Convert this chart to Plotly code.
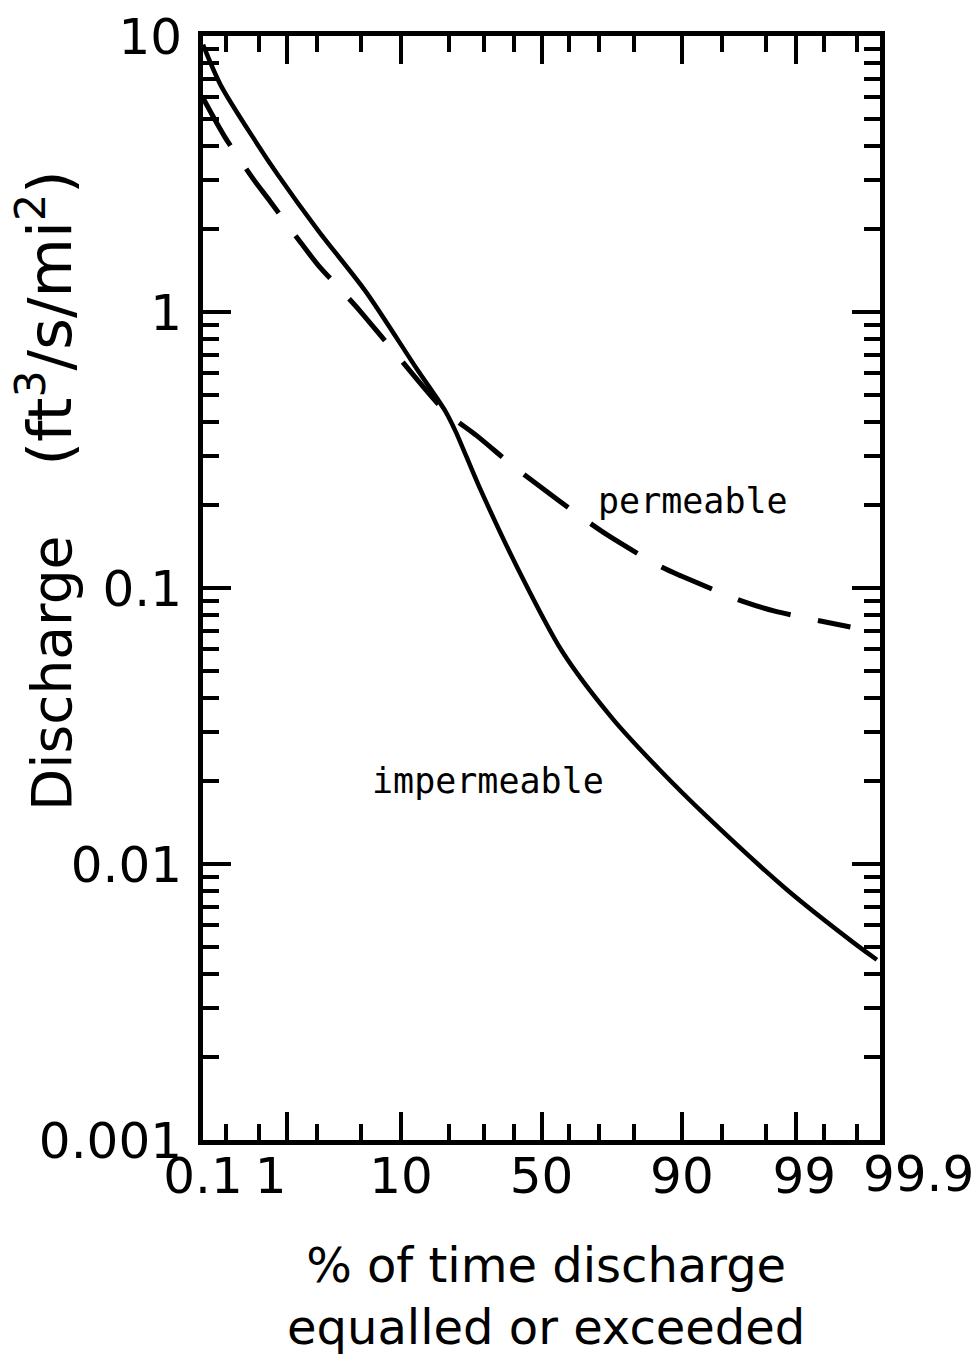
import math
from statistics import NormalDist
import plotly.graph_objects as go

nd = NormalDist()


def zq(p):
    """percent exceedance -> normal score (probability-paper position)"""
    return nd.inv_cdf(p / 100.0)


# ---------------- data ----------------
x_tick_pct = [0.1, 1, 10, 50, 90, 99, 99.9]
x_tick_text = ["0.1", "1\u00a0\u00a0", "10", "50", "90", "\u00a099", ""]
x_edge_label_pct = 99.9
x_edge_label = "99.9"
x_minor_pct = [0.2, 0.5, 2, 5, 20, 30, 40, 60, 70, 80, 95, 98, 99.5, 99.8]

y_tick_vals = [0.001, 0.01, 0.1, 1, 10]
y_tick_text = ["0.001", "0.01", "0.1", "1", "10"]
y_minor_mult = [2, 3, 4, 5, 6, 7, 8, 9]
y_decades = [0.001, 0.01, 0.1, 1]

imperm_pct = [0.1, 0.17, 0.45, 0.81, 2.1, 5.4, 12.7, 19.1, 21.7, 28.4,
              40.8, 57.4, 74.1, 85.9, 93.4, 98.74, 99.78, 99.89]
imperm_q = [9.3, 6.64, 4.16, 3.13, 1.96, 1.19, 0.624, 0.435, 0.368, 0.234,
            0.1212, 0.0591, 0.0337, 0.022, 0.0149, 0.00808, 0.00519, 0.0045]

perm_pct = [0.1, 0.19, 0.42, 0.66, 1.42, 2.08, 3.39, 4.92, 8.55, 19.1, 27.7,
            40.1, 49.1, 64.1, 72.6, 85.9, 89.9, 96.8, 98.34, 99.76]
perm_q = [5.96, 4.33, 3.05, 2.52, 1.77, 1.476, 1.197, 1.004, 0.737, 0.435, 0.3565,
          0.275, 0.2346, 0.181, 0.1557, 0.1202, 0.1105, 0.089, 0.0825, 0.0722]

labels = ["permeable", "impermeable"]
label_pct = [91.7, 31.2]
label_q = [0.207, 0.020]

# ---------------- figure ----------------
fig = go.Figure()

fig.add_trace(go.Scatter(
    x=[zq(p) for p in imperm_pct], y=imperm_q, mode="lines",
    line=dict(color="black", width=4.5, shape="spline", smoothing=0.8),
    showlegend=False, hoverinfo="skip"))

fig.add_trace(go.Scatter(
    x=[zq(p) for p in perm_pct], y=perm_q, mode="lines",
    line=dict(color="black", width=5, shape="spline", smoothing=0.8, dash="55px,28px"),
    showlegend=False, hoverinfo="skip"))

for t, p, q in zip(labels, label_pct, label_q):
    fig.add_annotation(x=zq(p), y=math.log10(q), text=t, showarrow=False,
                       xanchor="center", yanchor="middle",
                       font=dict(family="DejaVu Sans Mono", size=35, color="black"))

tick_font = dict(family="DejaVu Sans", size=50, color="black")

# right-edge tick label, nudged right as in the original figure
fig.add_annotation(x=zq(x_edge_label_pct), xref="x", y=0, yref="paper",
                   text=x_edge_label, showarrow=False, xanchor="center",
                   yanchor="top", xshift=38, yshift=-3, font=tick_font)

fig.update_xaxes(
    range=[zq(0.1), zq(99.9)],
    tickvals=[zq(p) for p in x_tick_pct], ticktext=x_tick_text,
    tickangle=0, ticklabeloverflow="allow",
    ticks="inside", ticklen=28, tickwidth=4, tickcolor="black",
    showline=True, linewidth=5, linecolor="black", mirror="allticks",
    showgrid=False, zeroline=False, tickfont=tick_font, ticklabelstandoff=-12,
    minor=dict(tickvals=[zq(p) for p in x_minor_pct], ticks="inside",
               ticklen=16, tickwidth=4, tickcolor="black", showgrid=False),
)

fig.update_yaxes(
    type="log", range=[-3, 1],
    tickvals=y_tick_vals, ticktext=y_tick_text,
    ticks="inside", ticklen=28, tickwidth=4, tickcolor="black",
    showline=True, linewidth=5, linecolor="black", mirror="allticks",
    showgrid=False, zeroline=False, tickfont=tick_font, ticklabelstandoff=6,
    minor=dict(tickvals=[d * m for d in y_decades for m in y_minor_mult],
               ticks="inside", ticklen=16, tickwidth=4, tickcolor="black",
               showgrid=False),
)

# axis titles
fig.add_annotation(xref="paper", yref="paper", x=-0.233, y=0.588,
                   text="Discharge\u00a0\u00a0\u00a0\u00a0<span style='font-size:61px'>(ft<sup>3</sup>/s/mi<sup>2</sup>)</span>",
                   textangle=-90, showarrow=False, xanchor="center", yanchor="middle",
                   font=dict(family="DejaVu Sans", size=55, color="black"))
fig.add_annotation(xref="paper", yref="paper", x=0.507, y=-0.141,
                   text="% of time discharge<br>equalled or exceeded",
                   showarrow=False, xanchor="center", yanchor="middle",
                   font=dict(family="DejaVu Sans", size=48, color="black"))

fig.update_layout(
    width=976, height=1358,
    margin=dict(l=203, r=96, t=36, b=218, autoexpand=False),
    paper_bgcolor="white", plot_bgcolor="white",
    showlegend=False,
)

fig.write_html("out.html")
